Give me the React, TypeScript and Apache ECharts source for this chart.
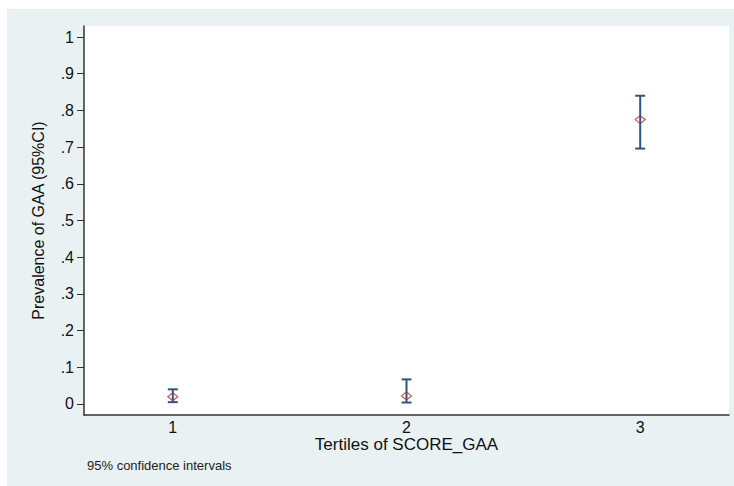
import React, { useEffect, useRef } from "react";
import * as echarts from "echarts";

// Tertile groups and their prevalence estimates with 95% CI bounds
const tertiles = [1, 2, 3];
const prevalence = [0.02, 0.022, 0.775];
const ciLower = [0.005, 0.004, 0.696];
const ciUpper = [0.04, 0.067, 0.84];
const yTicks = [0, 0.1, 0.2, 0.3, 0.4, 0.5, 0.6, 0.7, 0.8, 0.9, 1];

const fmtY = (v: number) => {
  if (v === 0) return "0";
  if (v === 1) return "1";
  return "." + Math.round(v * 10);
};

const FONT = "Liberation Sans, Arial, sans-serif";

export default function App() {
  const ref = useRef<HTMLDivElement>(null);

  useEffect(() => {
    if (!ref.current) return;
    const chart = echarts.init(ref.current, undefined, { renderer: "svg" });

    const ciData = tertiles.map((t, i) => [t, ciLower[i], ciUpper[i]]);
    const pointData = tertiles.map((t, i) => [t, prevalence[i]]);

    chart.setOption({
      animation: false,
      backgroundColor: "#e9f1f3",
      textStyle: { fontFamily: FONT },
      grid: {
        left: 77,
        top: 17,
        right: 5,
        bottom: 71,
        show: true,
        backgroundColor: "#ffffff",
        borderWidth: 0,
      },
      xAxis: {
        type: "value",
        min: 0.62,
        max: 3.38,
        name: "Tertiles of SCORE_GAA",
        nameLocation: "middle",
        nameGap: 21,
        nameMoveOverlap: false,
        nameTextStyle: { fontSize: 17, lineHeight: 17, color: "#111", fontFamily: FONT },
        axisLine: { show: true, onZero: false, lineStyle: { color: "#333", width: 1.5 } },
        axisTick: { show: false },
        splitLine: { show: false },
        axisLabel: {
          customValues: tertiles,
          fontSize: 16,
          lineHeight: 16,
          color: "#111",
          margin: 4,
          fontFamily: FONT,
        },
      },
      yAxis: {
        type: "value",
        min: -0.03,
        max: 1.03,
        name: "Prevalence of GAA (95%CI)",
        nameLocation: "middle",
        nameGap: 38,
        nameMoveOverlap: false,
        nameTextStyle: { fontSize: 16, color: "#111", fontFamily: FONT },
        axisLine: { show: true, onZero: false, lineStyle: { color: "#333", width: 1.5 } },
        axisTick: {
          show: true,
          inside: false,
          customValues: yTicks,
          length: 7,
          lineStyle: { color: "#333", width: 1 },
        },
        splitLine: { show: false },
        axisLabel: {
          customValues: yTicks,
          formatter: fmtY,
          fontSize: 16,
          color: "#111",
          margin: 10,
          fontFamily: FONT,
        },
      },
      graphic: [
        {
          type: "text",
          left: 80,
          top: 450,
          style: {
            text: "95% confidence intervals",
            fontSize: 13,
            fill: "#222",
            fontFamily: FONT,
          },
        },
      ],
      series: [
        {
          type: "custom",
          data: ciData,
          encode: { x: 0, y: [1, 2] },
          renderItem: (params: any, api: any) => {
            const x = api.value(0);
            const lo = api.coord([x, api.value(1)]);
            const hi = api.coord([x, api.value(2)]);
            const half = 5;
            const style = { stroke: "#2f5680", lineWidth: 2 };
            return {
              type: "group",
              children: [
                { type: "line", shape: { x1: lo[0], y1: lo[1], x2: hi[0], y2: hi[1] }, style },
                { type: "line", shape: { x1: lo[0] - half, y1: lo[1], x2: lo[0] + half, y2: lo[1] }, style },
                { type: "line", shape: { x1: hi[0] - half, y1: hi[1], x2: hi[0] + half, y2: hi[1] }, style },
              ],
            };
          },
          z: 2,
        },
        {
          type: "scatter",
          data: pointData,
          symbol: "diamond",
          symbolSize: [10, 8],
          itemStyle: { color: "rgba(255,255,255,0)", borderColor: "#b0393f", borderWidth: 1.3 },
          z: 3,
        },
      ],
    });

    return () => chart.dispose();
  }, []);

  return (
    <div
      ref={ref}
      style={{ position: "fixed", left: 7, top: 9, width: 727, height: 477 }}
    />
  );
}
